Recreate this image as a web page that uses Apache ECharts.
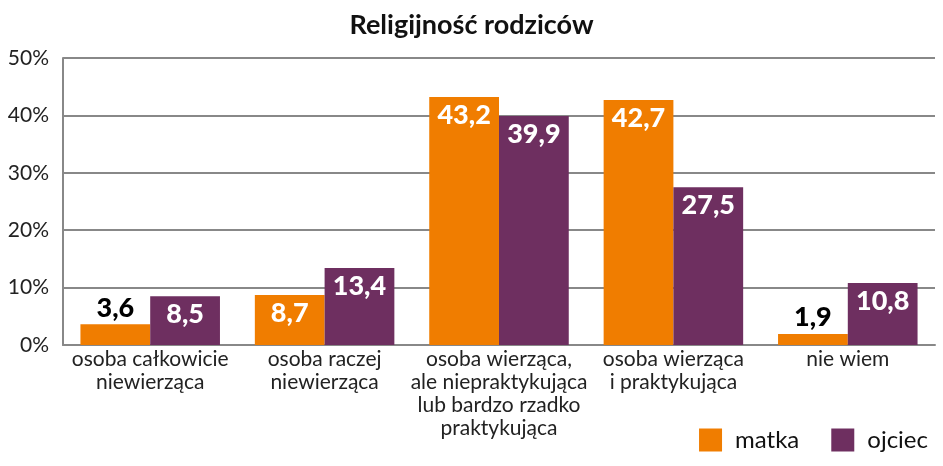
<!DOCTYPE html>
<html>
<head>
<meta charset="utf-8">
<script src="https://cdn.jsdelivr.net/npm/echarts@6/dist/echarts.min.js"></script>
<style>
  html, body { margin: 0; padding: 0; background: #fff; }
  #chart { width: 943px; height: 466px; }
</style>
</head>
<body>
<div id="chart"></div>
<script>
var categories = [
    'osoba całkowicie\nniewierząca',
    'osoba raczej\nniewierząca',
    'osoba wierząca,\nale niepraktykująca\nlub bardzo rzadko\npraktykująca',
    'osoba wierząca\ni praktykująca',
    'nie wiem'
];
var matka = [3.6, 8.7, 43.2, 42.7, 1.9];
var ojciec = [8.5, 13.4, 39.9, 27.5, 10.8];
var yTicks = [0, 10, 20, 30, 40, 50];

var font = 'Lato, "Noto Sans", sans-serif';

// małe słupki mają etykietę nad słupkiem, czarną
function toData(values) {
    return values.map(function (v) {
        if (v < 5) {
            return {value: v, label: {position: 'top', color: '#000', distance: 3}};
        }
        return v;
    });
}

function fmt(p) {
    return String(p.value).replace('.', ',');
}

var chart = echarts.init(document.getElementById('chart'));

var option = {
    animation: false,
    title: {
        text: 'Religijność rodziców',
        left: 'center',
        top: 7,
        textStyle: {fontFamily: font, fontSize: 27, fontWeight: 'bold', color: '#111'}
    },
    legend: {
        right: 10,
        top: 423,
        itemWidth: 23,
        itemHeight: 23,
        itemGap: 32,
        icon: 'rect',
        textStyle: {fontFamily: font, fontSize: 24, color: '#111', padding: [0, 0, 0, 8]},
        data: ['matka', 'ojciec']
    },
    grid: {left: 63, right: 8, top: 58, bottom: 121, containLabel: false},
    xAxis: {
        type: 'category',
        data: categories,
        axisTick: {show: false},
        axisLine: {lineStyle: {color: '#888', width: 2}},
        axisLabel: {
            fontFamily: font, fontSize: 21, color: '#222',
            lineHeight: 23, margin: 3, interval: 0
        }
    },
    yAxis: {
        type: 'value',
        min: yTicks[0],
        max: yTicks[yTicks.length - 1],
        interval: 10,
        axisLine: {show: true, lineStyle: {color: '#888', width: 2}},
        axisTick: {show: false},
        splitLine: {lineStyle: {color: '#888', width: 2}},
        axisLabel: {
            fontFamily: font, fontSize: 21, color: '#222', margin: 14,
            formatter: function (v) { return v + '%'; }
        }
    },
    series: [
        {
            name: 'matka',
            type: 'bar',
            data: toData(matka),
            barWidth: '40%',
            barGap: '0%',
            itemStyle: {color: '#F07D00'},
            label: {
                show: true, position: 'insideTop', distance: 5,
                fontFamily: font, fontSize: 27, fontWeight: 900, color: '#fff',
                formatter: fmt
            }
        },
        {
            name: 'ojciec',
            type: 'bar',
            data: toData(ojciec),
            barWidth: '40%',
            barGap: '0%',
            itemStyle: {color: '#6E2F60'},
            label: {
                show: true, position: 'insideTop', distance: 5,
                fontFamily: font, fontSize: 27, fontWeight: 900, color: '#fff',
                formatter: fmt
            }
        }
    ]
};

chart.setOption(option);
</script>
</body>
</html>
